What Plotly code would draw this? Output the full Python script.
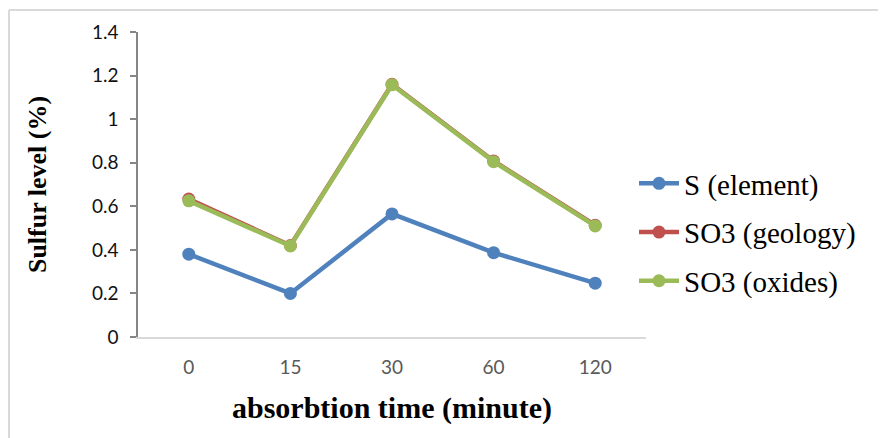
import plotly.graph_objects as go

categories = ["0", "15", "30", "60", "120"]
s_element = [0.38, 0.20, 0.565, 0.387, 0.247]
so3_geology = [0.633, 0.42, 1.16, 0.808, 0.513]
so3_oxides = [0.625, 0.418, 1.158, 0.805, 0.51]
y_ticks = [0, 0.2, 0.4, 0.6, 0.8, 1, 1.2, 1.4]
y_tick_text = ["0", "0.2", "0.4", "0.6", "0.8", "1", "1.2", "1.4"]
series_names = ["S (element)", "SO3 (geology)", "SO3 (oxides)"]
series_colors = ["#4f81bd", "#c0504d", "#9bbb59"]
series_values = [s_element, so3_geology, so3_oxides]

OFF = 8  # page body margin
W, H = 886, 438
# screen-space plot area
SX0, SX1, SY0, SY1 = 138, 646, 32, 337
L = SX0 - OFF
T = SY0 - OFF
R = W - (SX1 - OFF)
B = H - (SY1 - OFF)
pw, ph = W - L - R, H - T - B

fig = go.Figure()
for i, (name, vals, col) in enumerate(zip(series_names, series_values, series_colors)):
    fig.add_trace(go.Scatter(
        x=categories, y=vals,
        name='<span style="font-family:Liberation Serif, Times New Roman, serif">' + name + "</span>",
        mode="lines+markers",
        line=dict(color=col, width=4.5),
        marker=dict(color=col, size=13, symbol="circle"),
        legendgroup=f"g{i}",
    ))

def px_x(p):
    return (p - OFF - L) / pw

def px_y(p):
    return (H - B - (p - OFF)) / ph

SERIF = "Liberation Serif, Times New Roman, serif"

fig.update_layout(
    width=W, height=H,
    margin=dict(l=L, r=R, t=T, b=B),
    font=dict(family=SERIF, color="#000000"),
    paper_bgcolor="white", plot_bgcolor="white",
    showlegend=True,
    legend=dict(
        x=px_x(634), y=px_y(158), xanchor="left", yanchor="top",
        font=dict(family=SERIF, size=29, color="#000000"),
        tracegroupgap=8, itemwidth=40, bgcolor="rgba(0,0,0,0)",
    ),
    xaxis=dict(
        type="category", range=[-0.5, 4.5],
        showline=True, linecolor="#d9d9d9", linewidth=1.5,
        ticks="", showgrid=False, zeroline=False,
        ticklabelstandoff=12,
        tickfont=dict(family="Lato", size=19, color="#595959"),
        title=dict(text="<b>absorbtion time (minute)</b>",
                   font=dict(family=SERIF, size=30, color="#000000"),
                   standoff=20),
    ),
    yaxis=dict(
        range=[0, 1.4], tickvals=y_ticks, ticktext=y_tick_text,
        showline=True, linecolor="#868686", linewidth=1.5,
        ticks="outside", ticklen=6, tickcolor="#868686", tickwidth=1.5,
        showgrid=False, zeroline=False,
        ticklabelstandoff=8,
        tickfont=dict(family="Lato", size=19, color="#111111"),
        title=dict(text="<b>Sulfur level (%)</b>",
                   font=dict(family=SERIF, size=26, color="#000000"),
                   standoff=38),
    ),
    shapes=[
        dict(type="line", xref="paper", yref="paper",
             x0=px_x(9), x1=px_x(900), y0=px_y(10), y1=px_y(10),
             line=dict(color="#d9d9d9", width=2)),
        dict(type="line", xref="paper", yref="paper",
             x0=px_x(9), x1=px_x(9), y0=px_y(10), y1=px_y(460),
             line=dict(color="#d9d9d9", width=2)),
    ],
)

fig.write_html("out.html")
